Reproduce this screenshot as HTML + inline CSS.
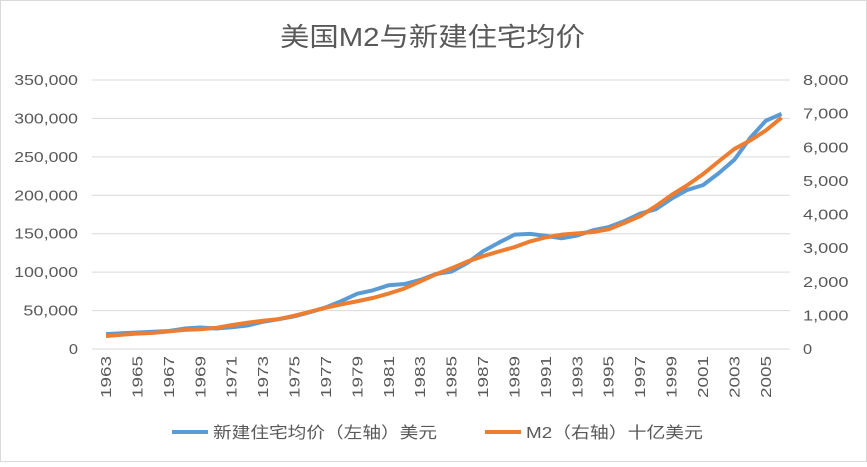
<!DOCTYPE html>
<html><head><meta charset="utf-8"><style>
body{margin:0;background:#fff;font-family:"Liberation Sans","Noto Sans CJK SC",sans-serif}
svg text{font-family:"Liberation Sans","Noto Sans CJK SC",sans-serif}
</style></head><body>
<svg id="c" width="867" height="462">
<rect x="0.5" y="0.5" width="866" height="461" fill="#fff" stroke="#d9d9d9"/>
<text x="280" y="46" font-size="26" fill="#595959" textLength="305" lengthAdjust="spacingAndGlyphs">美国M2与新建住宅均价</text>
<g id="grid"></g><g id="axes"></g><g id="lines"></g>
<g>
<line x1="172" y1="432" x2="208" y2="432" stroke="#5b9bd5" stroke-width="4"/>
<text x="213" y="438" font-size="16" fill="#595959" textLength="224" lengthAdjust="spacingAndGlyphs">新建住宅均价（左轴）美元</text>
<line x1="485" y1="432" x2="521" y2="432" stroke="#ed7d31" stroke-width="4"/>
<text x="526" y="438" font-size="16" fill="#595959" textLength="177" lengthAdjust="spacingAndGlyphs">M2（右轴）十亿美元</text>
</g>
</svg>
<script>
const years=[1963,1964,1965,1966,1967,1968,1969,1970,1971,1972,1973,1974,1975,1976,1977,1978,1979,1980,1981,1982,1983,1984,1985,1986,1987,1988,1989,1990,1991,1992,1993,1994,1995,1996,1997,1998,1999,2000,2001,2002,2003,2004,2005,2006];
const price=[19300,20500,21500,22500,23500,26600,27900,26600,28300,30500,35500,38900,42600,48000,54200,62500,72000,76400,83000,84500,89800,97600,100800,111900,127200,138300,148800,149800,147200,144100,147700,154500,158700,166400,176200,181900,195600,207000,213200,228700,246300,274500,297000,305900];
const m2=[387,424,459,480,525,567,588,627,710,780,840,890,990,1110,1230,1330,1420,1520,1650,1800,2010,2220,2400,2600,2760,2900,3030,3200,3320,3400,3440,3480,3560,3750,3950,4250,4580,4870,5200,5580,5950,6200,6500,6880];
const leftTicks=["0","50,000","100,000","150,000","200,000","250,000","300,000","350,000"];
const rightTicks=["0","1,000","2,000","3,000","4,000","5,000","6,000","7,000","8,000"];
const NS="http://www.w3.org/2000/svg";
const y0=349,y1=80,x0=106,dx=15.71;
const xs=i=>x0+i*dx;
const yL=v=>y0-(v/350000)*(y0-y1);
const yR=v=>y0-(v/8000)*(y0-y1);
function mk(t,a,p){const e=document.createElementNS(NS,t);for(const k in a)e.setAttribute(k,a[k]);p.appendChild(e);return e;}
const g=document.getElementById('grid'),ax=document.getElementById('axes'),ln=document.getElementById('lines');
leftTicks.forEach((t,i)=>{const y=yL(i*50000);
 const l=mk('line',{x1:92,x2:790,y1:y,y2:y,stroke:'#d9d9d9','stroke-width':1},g);
 
 
 const tx=mk('text',{x:78,y:y+5,'text-anchor':'end','font-size':15,fill:'#595959',textLength:t.length*9.1,lengthAdjust:'spacingAndGlyphs'},ax);tx.textContent=t;
 
 });
rightTicks.forEach((t,i)=>{const y=yR(i*1000);
 const tx=mk('text',{x:803,y:y+5,'font-size':15,fill:'#595959',textLength:t.length*9.1,lengthAdjust:'spacingAndGlyphs'},ax);tx.textContent=t;
 
 });
years.forEach((yr,i)=>{if(i%2)return;const x=xs(i);
 const tx=mk('text',{x:0,y:0,'text-anchor':'end','font-size':15,fill:'#595959',textLength:42,lengthAdjust:'spacingAndGlyphs',transform:`translate(${x+5},356) rotate(-90)`},ax);tx.textContent=yr;
 
 });
const p1=mk('polyline',{points:price.map((v,i)=>xs(i)+','+yL(v)).join(' '),fill:'none',stroke:'#5b9bd5','stroke-width':4,'stroke-linejoin':'round'},ln);


const p2=mk('polyline',{points:m2.map((v,i)=>xs(i)+','+yR(v)).join(' '),fill:'none',stroke:'#ed7d31','stroke-width':4,'stroke-linejoin':'round'},ln);


</script>
</body></html>
